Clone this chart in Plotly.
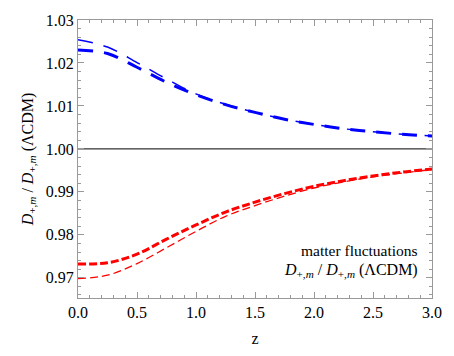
import plotly.graph_objects as go

# redshift grid
z = [0.0, 0.25, 0.5, 0.75, 1.0, 1.25, 1.5, 1.75, 2.0, 2.25, 2.5, 2.75, 3.0]

blue_thin = [1.0254, 1.0237, 1.0201, 1.0163, 1.0128, 1.0104, 1.0085, 1.0069, 1.0057, 1.0047, 1.0040, 1.0034, 1.0030]
blue_thick = [1.0230, 1.0222, 1.0190, 1.0155, 1.0126, 1.0103, 1.0085, 1.0069, 1.0057, 1.0047, 1.0040, 1.0034, 1.0030]
red_thick = [0.9732, 0.9735, 0.9755, 0.9790, 0.9823, 0.9853, 0.9876, 0.9896, 0.9913, 0.9926, 0.9937, 0.9946, 0.9953]
red_thin = [0.9698, 0.9706, 0.9733, 0.9770, 0.9808, 0.9843, 0.9868, 0.9890, 0.9909, 0.9923, 0.9935, 0.9944, 0.9952]

x_ticks = [0.0, 0.5, 1.0, 1.5, 2.0, 2.5, 3.0]
y_ticks = [0.97, 0.98, 0.99, 1.00, 1.01, 1.02, 1.03]

ylabel = '<i>D</i><sub>+,<i>m</i></sub> / <i>D</i><sub>+,<i>m</i></sub> (\u039bCDM)'
serif = 'Liberation Serif'

fig = go.Figure()

fig.add_trace(go.Scatter(x=[0, 3], y=[1.0, 1.0], mode='lines',
                         line=dict(color='black', width=1)))
fig.add_trace(go.Scatter(x=z, y=red_thin, mode='lines', line_shape='spline',
                         line=dict(color='#ff0000', width=1.3, dash='8px,4px')))
fig.add_trace(go.Scatter(x=z, y=red_thick, mode='lines', line_shape='spline',
                         line=dict(color='#ff0000', width=3, dash='8px,3px')))
fig.add_trace(go.Scatter(x=z, y=blue_thin, mode='lines', line_shape='spline',
                         line=dict(color='#0000ff', width=1.5, dash='15px,11px')))
fig.add_trace(go.Scatter(x=z, y=blue_thick, mode='lines', line_shape='spline',
                         line=dict(color='#0000ff', width=3, dash='15px,11px')))

axis_style = dict(showgrid=False, zeroline=False, showline=True, linecolor='#999999',
                  linewidth=1, mirror='ticks', ticks='inside', ticklen=6,
                  tickcolor='#999999', tickfont=dict(family=serif, size=16, color='black'))

fig.update_xaxes(range=[0, 3], tickvals=x_ticks, ticktext=['%.1f' % v for v in x_ticks],
                 minor=dict(dtick=0.1, ticks='inside', ticklen=3, tickcolor='#999999'),
                 title=dict(text='z', font=dict(family=serif, size=16, color='black'), standoff=12),
                 **axis_style)
fig.update_yaxes(range=[0.9653, 1.03], tickvals=y_ticks, ticktext=['%.2f' % v for v in y_ticks],
                 minor=dict(dtick=0.002, ticks='inside', ticklen=3, tickcolor='#999999'),
                 title=dict(text=ylabel, font=dict(family=serif, size=16, color='black'), standoff=8),
                 **axis_style)

fig.add_annotation(x=0.966, y=0.171, xref='paper', yref='paper', xanchor='right', yanchor='middle',
                   text='matter fluctuations', showarrow=False,
                   font=dict(family=serif, size=15.5, color='black'))
fig.add_annotation(x=0.966, y=0.098, xref='paper', yref='paper', xanchor='right', yanchor='middle',
                   text=ylabel, showarrow=False,
                   font=dict(family=serif, size=16, color='black'))

fig.update_layout(width=454, height=356, showlegend=False,
                  font=dict(family=serif, size=15, color='black'),
                  paper_bgcolor='white', plot_bgcolor='white',
                  margin=dict(l=78, r=13, t=13, b=54))

# drop the default body margin so the figure sits at the page corner
fig.write_html('out.html', config={'displayModeBar': False},
               post_script="document.body.style.margin='0';")
